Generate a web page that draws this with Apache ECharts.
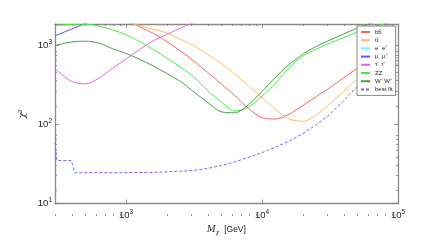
<!DOCTYPE html>
<html><head><meta charset="utf-8">
<script src="https://cdn.jsdelivr.net/npm/echarts@6/dist/echarts.min.js"></script>
<style>html,body{margin:0;padding:0;background:#fff}#c{width:443px;height:240px}</style>
</head><body><div id="c"></div>
<script>
const legendNames = ['bb\u0304', 'tt\u0304', 'e\u207b e\u207a', '\u03bc\u207b \u03bc\u207a', '\u03c4\u207b \u03c4\u207a', 'ZZ', 'W\u207b W\u207a', 'best fit'];
const xMajorTicks = [1e3, 1e4, 1e5];
const xMinorTicks = [300,400,500,600,700,800,900,2000,3000,4000,5000,6000,7000,8000,9000,20000,30000,40000,50000,60000,70000,80000,90000];
const yMajorTicks = [10, 100, 1000];
const yMinorTicks = [20,30,40,50,60,70,80,90,200,300,400,500,600,700,800,900];

// Dark-matter mass grid (GeV)
const massGrid = [300,316,398,501,631,794,1000,1259,1585,1995,2512,3162,3981,5012,6310,7943,10000,12589,15849,19953,25119,31623,39811,50119,63096,79433,100000];
// chi^2 per channel on massGrid (null = not drawn)
const bbChi     = [null,null,null,null,null,null,2089,1726,1422,1122,851,631,457,327,232,160,122,117.5,135,174,226,294,389,515,631,741,849];
const ttChi     = [null,null,null,null,null,null,1995,1786,1611,1439,1202,989,776,593,437,309,219,155,117.5,110,132,184,263,376,501,617,702];
const eeChi     = [];
const mumuChi   = [1324,1374,1614,1901,2239];
const tautauChi = [510,468,351,327,387,513,676,891,1148,1380,1660,1950];
const zzChi     = [1774,1799,1854,1862,1758,1578,1365,1122,891,692,531,398,269,193,148,166,229,331,525,733,902,1072,1259,1479,1679,1884,2089];
const wwChi     = [991,1023,1109,1135,1072,912,794,668,550,442,351,257,191,145,141,178,263,398,575,776,977,1175,1396,1660,1905,2138,2400];
// best fit curve (own mass points because of the steps at low mass)
const bestFitMass = [300,310,395,420,888,1585,2512,3162,3981,5012,6310,7943,10000,12589,15849,19953,25119,31623,39811,50119,63096,79433,100000];
const bestFitChi  = [60,35,35,24.6,24.6,24.8,25.7,26.3,27.9,30.2,33.7,38.5,44.2,51.9,61.7,76.7,100,135,200,302,407,501,575];

const colors = ['#ff6060','#ffbb55','#66ffff','#5a5aff','#e066e0','#44ee44','#4a9e4a','#6a6aff'];
function pairs(mass, chi){ const out=[]; chi.forEach((c,i)=>{ if(c!=null) out.push([mass[i], c]); }); return out; }
const seriesData = [pairs(massGrid,bbChi), pairs(massGrid,ttChi), pairs(massGrid,eeChi), pairs(massGrid,mumuChi), pairs(massGrid,tautauChi), pairs(massGrid,zzChi), pairs(massGrid,wwChi), pairs(bestFitMass,bestFitChi)];

const FONT = 'Liberation Sans';
const frame = '#8a8a8a';
function expLabel(v){ const e = Math.round(Math.log10(v)); return '{b|10}{s|' + e + '}'; }
const rich = { b:{fontSize:9.5, fontFamily:FONT, color:'#222'}, s:{fontSize:6.5, fontFamily:FONT, color:'#222', padding:[0,0,6,0]} };

function xAx(grid, pos, major, labels){
  return { type:'log', logBase:10, min:300, max:1e5, gridIndex:grid, position:pos,
    axisLine:{show:major, lineStyle:{color:frame, width:1.3}},
    axisTick:{show:true, inside:true, length: major?4:2, customValues: major?xMajorTicks:xMinorTicks, lineStyle:{color:'#777', width:0.8}},
    axisLabel:{show:labels, customValues:xMajorTicks, formatter:expLabel, rich:rich, margin:5},
    splitLine:{show:false},
    name: labels ? '{i|M}{u|\u03c7}  [GeV]' : '', nameLocation:'middle', nameGap:19,
    nameTextStyle:{fontFamily:FONT, fontSize:8.5, color:'#222', rich:{i:{fontStyle:'italic', fontFamily:'DejaVu Serif', fontSize:8.5, color:'#222'}, u:{fontSize:6, fontStyle:'italic', fontFamily:'DejaVu Serif', color:'#222', padding:[5,0,0,0]}}}
  };
}
function yAx(grid, pos, major, labels){
  return { type:'log', logBase:10, min:10, max:1871, gridIndex:grid, position:pos,
    axisLine:{show:major, lineStyle:{color:frame, width:1.3}},
    axisTick:{show:true, inside:true, length: major?4:2, customValues: major?yMajorTicks:yMinorTicks, lineStyle:{color:'#777', width:0.8}},
    axisLabel:{show:labels, customValues:yMajorTicks, formatter:expLabel, rich:rich, margin:3},
    splitLine:{show:false},
    name: labels ? '\u03c7\u00b2' : '', nameLocation:'middle', nameGap:23, nameRotate:90,
    nameTextStyle:{fontFamily:'DejaVu Serif', fontSize:9, fontStyle:'italic', color:'#222'}
  };
}
const gridRect = {left:55, right:45, top:24, bottom:24};
const option = {
  backgroundColor:'#fff',
  animation:false,
  grid:[Object.assign({}, gridRect), Object.assign({}, gridRect)],
  xAxis:[xAx(0,'bottom',true,true), xAx(0,'top',true,false), xAx(1,'bottom',false,false), xAx(1,'top',false,false)],
  yAxis:[yAx(0,'left',true,true), yAx(0,'right',true,false), yAx(1,'left',false,false), yAx(1,'right',false,false)],
  legend:{ orient:'vertical', left:357, top:26, padding:[3,3,3,3], itemWidth:9, itemHeight:6, itemGap:2.2,
    borderColor:'#888', borderWidth:1, backgroundColor:'#fff',
    itemStyle:{opacity:0},
    textStyle:{fontSize:6, fontFamily:FONT, color:'#222', lineHeight:6},
    data: legendNames },
  series: seriesData.map((d,i)=>({
    name: legendNames[i], type:'line', data:d, xAxisIndex:0, yAxisIndex:0,
    showSymbol:false, symbol:'none', smooth: i===7 ? false : 0.3, clip:true,
    lineStyle:{color:colors[i], width:1, type: i===7 ? [3,2] : 'solid'},
    itemStyle:{color:colors[i]}, z: 3
  }))
};
const chart = echarts.init(document.getElementById('c'), null, {renderer:'canvas'});
chart.setOption(option);
</script>
</body></html>
